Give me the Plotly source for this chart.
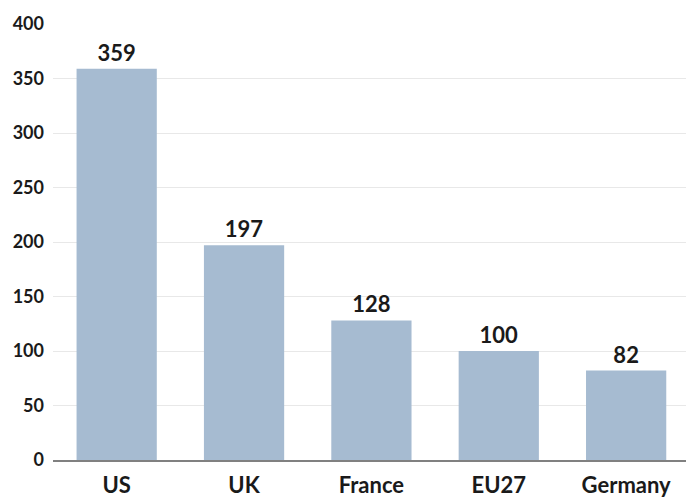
import plotly.graph_objects as go

countries = ["US", "UK", "France", "EU27", "Germany"]
values = [359, 197, 128, 100, 82]
y_ticks = [0, 50, 100, 150, 200, 250, 300, 350, 400]

bar_color = "#a6bbd1"
text_color = "#1a1a1a"
font_family = "Lato, Open Sans, sans-serif"

fig = go.Figure(
    go.Bar(
        x=countries,
        y=values,
        marker=dict(color=bar_color, line=dict(width=0)),
        text=[str(v) for v in values],
        textposition="outside",
        textfont=dict(family=font_family, size=22, color=text_color, weight="bold"),
        cliponaxis=False,
    )
)

fig.update_layout(
    width=686,
    height=498,
    margin=dict(l=53, r=0, t=24, b=38),
    paper_bgcolor="white",
    plot_bgcolor="white",
    bargap=0.37,
    showlegend=False,
    font=dict(family=font_family, color=text_color),
)

fig.update_xaxes(
    range=[-0.5, 4.47],
    showgrid=False,
    showline=True,
    linecolor="#808080",
    linewidth=2,
    ticks="",
    ticklabelstandoff=5,
    tickfont=dict(family=font_family, size=22, color=text_color, weight="bold"),
)

fig.update_yaxes(
    range=[0, 400],
    tickvals=y_ticks,
    showgrid=True,
    gridcolor="#e8e8e8",
    gridwidth=1,
    zeroline=False,
    showline=False,
    ticks="",
    ticklabelstandoff=8,
    tickfont=dict(family=font_family, size=18, color=text_color, weight="bold"),
)

fig.write_html("out.html")
